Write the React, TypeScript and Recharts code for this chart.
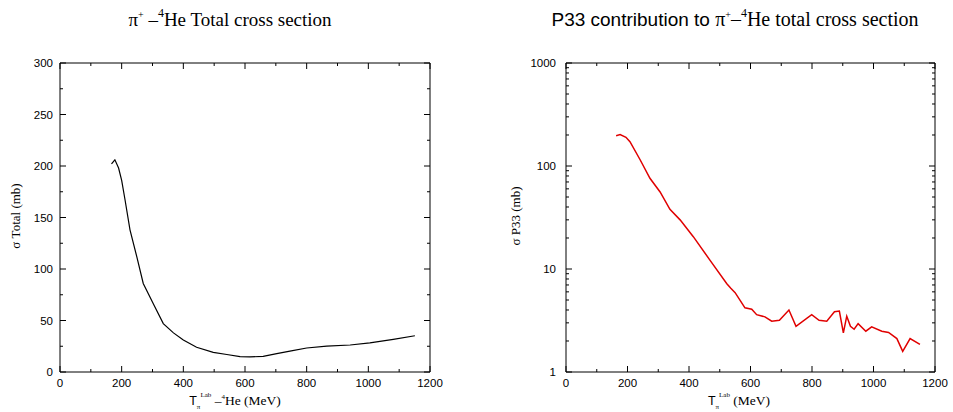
import React from "react";
import { LineChart, Line, XAxis, YAxis } from "recharts";

// π+ - 4He total cross section (mb) vs T_lab (MeV)
const totalEnergy = [167, 178, 190, 200, 211, 227, 249, 270, 303, 335, 368, 400, 443, 497, 541, 584, 616, 659, 703, 750, 800, 865, 941, 1005, 1081, 1151];
const totalSigma = [202, 206, 198, 186, 167, 138, 112, 86, 66, 47, 38, 31, 24, 19, 17, 15, 14.6, 15.2, 17.9, 20.5, 23.3, 25.2, 26.2, 28.2, 31.7, 35.2];

// P33 contribution (mb)
const p33Energy = [163, 176, 195, 208, 241, 273, 306, 338, 371, 414, 468, 523, 536, 550, 582, 604, 620, 647, 669, 694, 725, 748, 799, 823, 848, 873, 889, 902, 913, 925, 937, 950, 975, 994, 1027, 1049, 1076, 1095, 1119, 1151];
const p33Sigma = [197, 202, 190, 172, 115, 76, 56, 38, 30, 20.6, 12.2, 7.2, 6.5, 5.9, 4.2, 4.07, 3.6, 3.43, 3.11, 3.18, 4.0, 2.78, 3.6, 3.18, 3.11, 3.84, 3.9, 2.4, 3.48, 2.78, 2.6, 2.95, 2.49, 2.74, 2.49, 2.42, 2.11, 1.59, 2.11, 1.85];

const xTicks = [0, 100, 200, 300, 400, 500, 600, 700, 800, 900, 1000, 1100, 1200];
const xLabels = [0, 200, 400, 600, 800, 1000, 1200];
const yTicksTotal = [0, 25, 50, 75, 100, 125, 150, 175, 200, 225, 250, 275, 300];
const yLabelsTotal = [0, 50, 100, 150, 200, 250, 300];
const yTicksLog = [1, 2, 3, 4, 5, 6, 7, 8, 9, 10, 20, 30, 40, 50, 60, 70, 80, 90, 100, 200, 300, 400, 500, 600, 700, 800, 900, 1000];
const yLabelsLog = [1, 10, 100, 1000];

const totalData = totalEnergy.map((e, i) => ({ e, v: totalSigma[i] }));
const p33Data = p33Energy.map((e, i) => ({ e, v: p33Sigma[i] }));

const SANS = "'Liberation Sans', Arial, Helvetica, sans-serif";
const SERIF = "'Liberation Serif', 'Times New Roman', serif";
const MAJOR = 6;
const MINOR = 3;

function makeTick(side: string, labels: number[], gap = 7) {
  return (props: any) => {
    const { x, y, payload } = props;
    const v = payload.value;
    const major = labels.includes(v);
    const len = major ? MAJOR : MINOR;
    let line;
    let label = null;
    if (side === "bottom") {
      line = <line x1={x} y1={y} x2={x} y2={y - len} stroke="#000" />;
      if (major)
        label = (
          <text x={x} y={y + 15} textAnchor="middle" fontFamily={SANS} fontSize={11.5} fill="#000">
            {v}
          </text>
        );
    } else if (side === "top") {
      line = <line x1={x} y1={y} x2={x} y2={y + len} stroke="#000" />;
    } else if (side === "left") {
      line = <line x1={x} y1={y} x2={x + len} y2={y} stroke="#000" />;
      if (major)
        label = (
          <text x={x - gap} y={y + 4} textAnchor="end" fontFamily={SANS} fontSize={11.5} fill="#000">
            {v}
          </text>
        );
    } else {
      line = <line x1={x} y1={y} x2={x - len} y2={y} stroke="#000" />;
    }
    return (
      <g>
        {line}
        {label}
      </g>
    );
  };
}

function Panel({ data, color, log, yTicks, yLabels, margin, gap, width }: any) {
  const yDomain = log ? [1, 1000] : [0, 300];
  const scale = log ? "log" : "linear";
  return (
    <LineChart width={width} height={412} data={data} margin={margin}>
      <XAxis xAxisId="b" dataKey="e" type="number" domain={[0, 1200]} ticks={xTicks} interval={0}
        height={1} tickSize={0} tickMargin={0} tickLine={false} axisLine={{ stroke: "#000" }}
        tick={makeTick("bottom", xLabels)} />
      <XAxis xAxisId="t" orientation="top" dataKey="e" type="number" domain={[0, 1200]} ticks={xTicks} interval={0}
        height={1} tickSize={0} tickMargin={0} tickLine={false} axisLine={{ stroke: "#000" }}
        tick={makeTick("top", xLabels)} />
      <YAxis yAxisId="l" type="number" scale={scale} domain={yDomain} allowDataOverflow ticks={yTicks} interval={0}
        width={1} tickSize={0} tickMargin={0} tickLine={false} axisLine={{ stroke: "#000" }}
        tick={makeTick("left", yLabels, gap)} />
      <YAxis yAxisId="r" orientation="right" type="number" scale={scale} domain={yDomain} allowDataOverflow ticks={yTicks} interval={0}
        width={1} tickSize={0} tickMargin={0} tickLine={false} axisLine={{ stroke: "#000" }}
        tick={makeTick("right", yLabels)} />
      <Line xAxisId="b" yAxisId="l" dataKey="v" type="linear" stroke={color} strokeWidth={log ? 1.5 : 1.2}
        dot={false} isAnimationActive={false} />
    </LineChart>
  );
}

export default function App() {
  return (
    <div style={{ position: "absolute", left: 0, top: 0, width: 953, height: 412, background: "#fff" }}>
      <div style={{ position: "absolute", left: 0, top: 0 }}>
        <Panel data={totalData} color="#000" log={false} yTicks={yTicksTotal} yLabels={yLabelsTotal}
          width={476} margin={{ top: 62, right: 45, bottom: 39, left: 59 }} gap={7} />
      </div>
      <div style={{ position: "absolute", left: 476, top: 0 }}>
        <Panel data={p33Data} color="#e00000" log={true} yTicks={yTicksLog} yLabels={yLabelsLog}
          width={477} margin={{ top: 62, right: 17, bottom: 39, left: 89 }} gap={10} />
      </div>
      <svg width={953} height={412} style={{ position: "absolute", left: 0, top: 0, pointerEvents: "none" }}>
        {/* titles */}
        <text x={230} y={26} textAnchor="middle" fontFamily={SERIF} fontSize={19} fill="#000">
          <tspan>π</tspan>
          <tspan dy={-8} fontSize={10}>+</tspan>
          <tspan dy={8}> –</tspan>
          <tspan dy={-9} fontSize={12}>4</tspan>
          <tspan dy={9}>He Total cross section</tspan>
        </text>
        <text x={735} y={26} textAnchor="middle" fontSize={19} fill="#000">
          <tspan fontFamily={SANS}>P33 contribution to </tspan>
          <tspan fontFamily={SERIF} fontSize={20}>π</tspan>
          <tspan dy={-8} fontFamily={SERIF} fontSize={10}>+</tspan>
          <tspan dy={8} fontFamily={SERIF} fontSize={20}>–</tspan>
          <tspan dy={-9} fontFamily={SERIF} fontSize={12}>4</tspan>
          <tspan dy={9} fontFamily={SERIF} fontSize={20}>He total cross section</tspan>
        </text>
        {/* x labels */}
        <text x={235} y={405} textAnchor="middle" fontSize={13.5} fill="#000">
          <tspan fontFamily={SANS} fontSize={12.5}>T</tspan>
          <tspan dy={4} fontFamily={SERIF} fontSize={7}>π</tspan>
          <tspan dy={-12} fontFamily={SERIF} fontSize={7}>Lab</tspan>
          <tspan dy={8} fontFamily={SERIF}> –</tspan>
          <tspan dy={-6} fontFamily={SERIF} fontSize={7}>4</tspan>
          <tspan dy={6} fontFamily={SERIF}>He  (MeV)</tspan>
        </text>
        <text x={739} y={405} textAnchor="middle" fontSize={13.5} fill="#000">
          <tspan fontFamily={SANS} fontSize={12.5}>T</tspan>
          <tspan dy={4} fontFamily={SERIF} fontSize={7}>π</tspan>
          <tspan dy={-12} fontFamily={SERIF} fontSize={7}>Lab</tspan>
          <tspan dy={8} fontFamily={SERIF}> (MeV)</tspan>
        </text>
        {/* y labels */}
        <text transform="translate(20,216) rotate(-90)" textAnchor="middle" fontFamily={SERIF} fontSize={13} fill="#000">
          σ Total (mb)
        </text>
        <text transform="translate(520,216) rotate(-90)" textAnchor="middle" fontFamily={SERIF} fontSize={13} fill="#000">
          σ P33 (mb)
        </text>
      </svg>
    </div>
  );
}
